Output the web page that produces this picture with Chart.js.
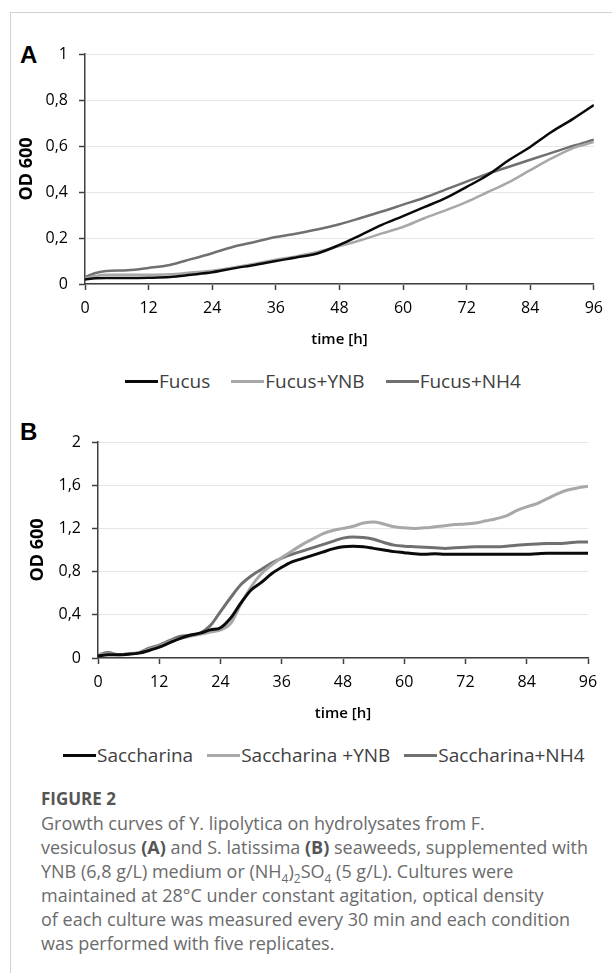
<!DOCTYPE html>
<html>
<head>
<meta charset="utf-8">
<script src="https://cdn.jsdelivr.net/npm/chart.js@4.4.1/dist/chart.umd.min.js"></script>
<style>
  body { margin: 0; width: 612px; height: 973px; position: relative; overflow: hidden; background: #fff; font-family: "Open Sans", sans-serif; }
  .frame { position: absolute; left: 10px; top: 12px; width: 700px; height: 1000px; border-left: 1px solid #d2d2d2; border-top: 1px solid #d2d2d2; }
  .panel { position: absolute; left: 11px; width: 601px; }
  .tag { position: absolute; left: 20px; font: bold 24px "Liberation Sans", Arial, sans-serif; color: #000; line-height: 24px; }
  .legend { position: absolute; display: flex; align-items: center; height: 26px; font-size: 19px; color: #404040; white-space: nowrap; }
  .legend .it { display: flex; align-items: center; }
  .legend .sw { display: inline-block; width: 33px; height: 3px; margin-right: 1px; }
  .cap { position: absolute; left: 41px; color: #6b6b6b; font-size: 18px; line-height: 24px; white-space: nowrap; }
  .cap b { color: #555; }
  .cap sub { font-size: 12px; line-height: 0; }
</style>
</head>
<body>
<div class="frame"></div>

<div class="tag" style="top:43px">A</div>
<div class="panel" style="top:13px;height:340px"><canvas id="chartA"></canvas></div>
<div class="legend" id="legendA" style="left:125px;top:368px;gap:21px"></div>

<div class="tag" style="top:420px">B</div>
<div class="panel" style="top:400px;height:326px"><canvas id="chartB"></canvas></div>
<div class="legend" id="legendB" style="left:63px;top:742px;gap:14px"></div>

<div class="cap" style="top:787px;font-weight:bold;font-size:17px;color:#555">FIGURE 2</div>
<div class="cap" style="top:811px">
Growth curves of Y. lipolytica on hydrolysates from F.<br>
vesiculosus <b>(A)</b> and S. latissima <b>(B)</b> seaweeds, supplemented with<br>
YNB (6,8 g/L) medium or (NH<sub>4</sub>)<sub>2</sub>SO<sub>4</sub> (5 g/L). Cultures were<br>
maintained at 28°C under constant agitation, optical density<br>
of each culture was measured every 30 min and each condition<br>
was performed with five replicates.
</div>

<script>
// painel A - Fucus
const hoursA = [0,2,4,8,12,16,20,24,28,32,36,40,44,48,52,56,60,64,68,72,76,80,84,88,92,96];
const fucus    = [0.02,0.025,0.026,0.026,0.027,0.03,0.04,0.051,0.068,0.083,0.1,0.116,0.134,0.17,0.213,0.257,0.295,0.334,0.373,0.422,0.474,0.539,0.596,0.661,0.717,0.778];
const fucusYNB = [0.025,0.035,0.04,0.04,0.04,0.042,0.05,0.058,0.072,0.088,0.105,0.121,0.14,0.165,0.19,0.22,0.248,0.286,0.32,0.357,0.4,0.443,0.495,0.546,0.59,0.617];
const fucusNH4 = [0.03,0.048,0.057,0.06,0.07,0.083,0.108,0.134,0.162,0.183,0.204,0.22,0.238,0.26,0.287,0.315,0.345,0.375,0.41,0.445,0.48,0.51,0.54,0.57,0.6,0.627];

// painel B - Saccharina
const hoursB = [0,2,4,6,8,10,12,14,16,18,20,22,24,26,28,30,32,34,36,38,40,42,44,46,48,50,52,54,56,58,60,62,64,66,68,70,72,74,76,78,80,82,84,86,88,90,92,94,96];
const sacch    = [0.02,0.03,0.03,0.035,0.045,0.07,0.1,0.14,0.18,0.21,0.23,0.26,0.28,0.37,0.51,0.63,0.7,0.78,0.84,0.89,0.92,0.95,0.98,1.01,1.03,1.035,1.03,1.015,1.0,0.985,0.975,0.965,0.96,0.965,0.96,0.96,0.96,0.96,0.96,0.96,0.96,0.96,0.96,0.965,0.97,0.97,0.97,0.97,0.97];
const sacchYNB = [0.03,0.04,0.03,0.04,0.05,0.08,0.11,0.15,0.18,0.2,0.22,0.24,0.26,0.32,0.5,0.66,0.78,0.86,0.93,0.99,1.05,1.1,1.15,1.18,1.2,1.22,1.25,1.26,1.24,1.215,1.205,1.2,1.205,1.215,1.225,1.235,1.24,1.25,1.27,1.29,1.315,1.365,1.4,1.43,1.475,1.52,1.555,1.575,1.59];
const sacchNH4 = [0.03,0.05,0.03,0.04,0.05,0.09,0.12,0.16,0.2,0.21,0.23,0.3,0.43,0.56,0.68,0.76,0.82,0.88,0.925,0.96,0.99,1.02,1.05,1.08,1.11,1.12,1.115,1.1,1.07,1.045,1.035,1.03,1.025,1.02,1.015,1.02,1.025,1.03,1.03,1.03,1.035,1.045,1.05,1.055,1.06,1.06,1.065,1.075,1.075];

const xTicks = [0,12,24,36,48,60,72,84,96];
const yTicksA = ['0','0,2','0,4','0,6','0,8','1'];
const yTicksB = ['0','0,4','0,8','1,2','1,6','2'];

const namesA = ['Fucus','Fucus+YNB','Fucus+NH4'];
const namesB = ['Saccharina','Saccharina +YNB','Saccharina+NH4'];
const cores = ['#0a0a0a','#a8a8a8','#707070'];

function pontos(xs, ys) {
    return xs.map((x, i) => ({ x: x, y: ys[i] }));
}

function montarLegenda(id, nomes) {
    const el = document.getElementById(id);
    nomes.forEach((n, i) => {
        el.innerHTML += `<span class="it"><span class="sw" style="background:${cores[i]}"></span>${n}</span>`;
    });
}

function criarGrafico(id, xs, series, nomes, cfg) {
    const ctx = document.getElementById(id).getContext('2d');
    return new Chart(ctx, {
        type: 'line',
        data: {
            datasets: series.map((s, i) => ({
                label: nomes[i],
                data: pontos(xs, s),
                borderColor: cores[i],
                backgroundColor: cores[i],
                borderWidth: cfg.lw,
                pointRadius: 0,
                cubicInterpolationMode: 'monotone',
                fill: false
            }))
        },
        options: {
            responsive: true,
            maintainAspectRatio: false,
            animation: false,
            layout: { padding: { top: cfg.padTop, right: cfg.padRight, left: 0, bottom: 0 } },
            plugins: { legend: { display: false }, tooltip: { enabled: false } },
            scales: {
                x: {
                    type: 'linear',
                    min: 0, max: 96,
                    afterBuildTicks: s => { s.ticks = xTicks.map(v => ({ value: v })); },
                    afterFit: s => { s.height = cfg.xH; },
                    ticks: {
                        callback: (v, i) => String(xTicks[i]),
                        color: '#000', padding: 9, maxRotation: 0,
                        font: { family: 'Open Sans', size: 16 }
                    },
                    grid: { drawOnChartArea: false, tickLength: 6, tickColor: '#404040', tickWidth: 1.5 },
                    border: { color: '#404040', width: 1.5 },
                    title: {
                        display: true, text: 'time [h]', color: '#000',
                        padding: { top: 0, bottom: cfg.xTitlePad },
                        font: { family: 'Open Sans', size: 15, weight: '600' }
                    }
                },
                y: {
                    min: 0, max: cfg.yMax,
                    afterBuildTicks: s => { s.ticks = cfg.yLabels.map((l, i) => ({ value: i * cfg.yMax / 5 })); },
                    afterFit: s => { s.width = cfg.yW; },
                    ticks: {
                        callback: (v, i) => cfg.yLabels[i],
                        color: '#000', padding: 11,
                        font: { family: 'Open Sans', size: 16 }
                    },
                    grid: { color: '#e6e6e6', lineWidth: 1, tickLength: 6, tickColor: '#404040', tickWidth: 1.5 },
                    border: { color: '#404040', width: 1.5 },
                    title: {
                        display: true, text: 'OD 600', color: '#000',
                        padding: { top: cfg.yTitlePad, bottom: 0 },
                        font: { family: 'Open Sans', size: 18, weight: 'bold' }
                    }
                }
            }
        }
    });
}

criarGrafico('chartA', hoursA, [fucus, fucusYNB, fucusNH4], namesA,
    { lw: 2.5, padTop: 41, padRight: 9, xH: 69, yW: 74, yMax: 1, yLabels: yTicksA, xTitlePad: 4, yTitlePad: 5 });
criarGrafico('chartB', hoursB, [sacch, sacchYNB, sacchNH4], namesB,
    { lw: 3, padTop: 42, padRight: 24, xH: 68, yW: 87, yMax: 2, yLabels: yTicksB, xTitlePad: 3, yTitlePad: 16 });

montarLegenda('legendA', namesA);
montarLegenda('legendB', namesB);
</script>
</body>
</html>
